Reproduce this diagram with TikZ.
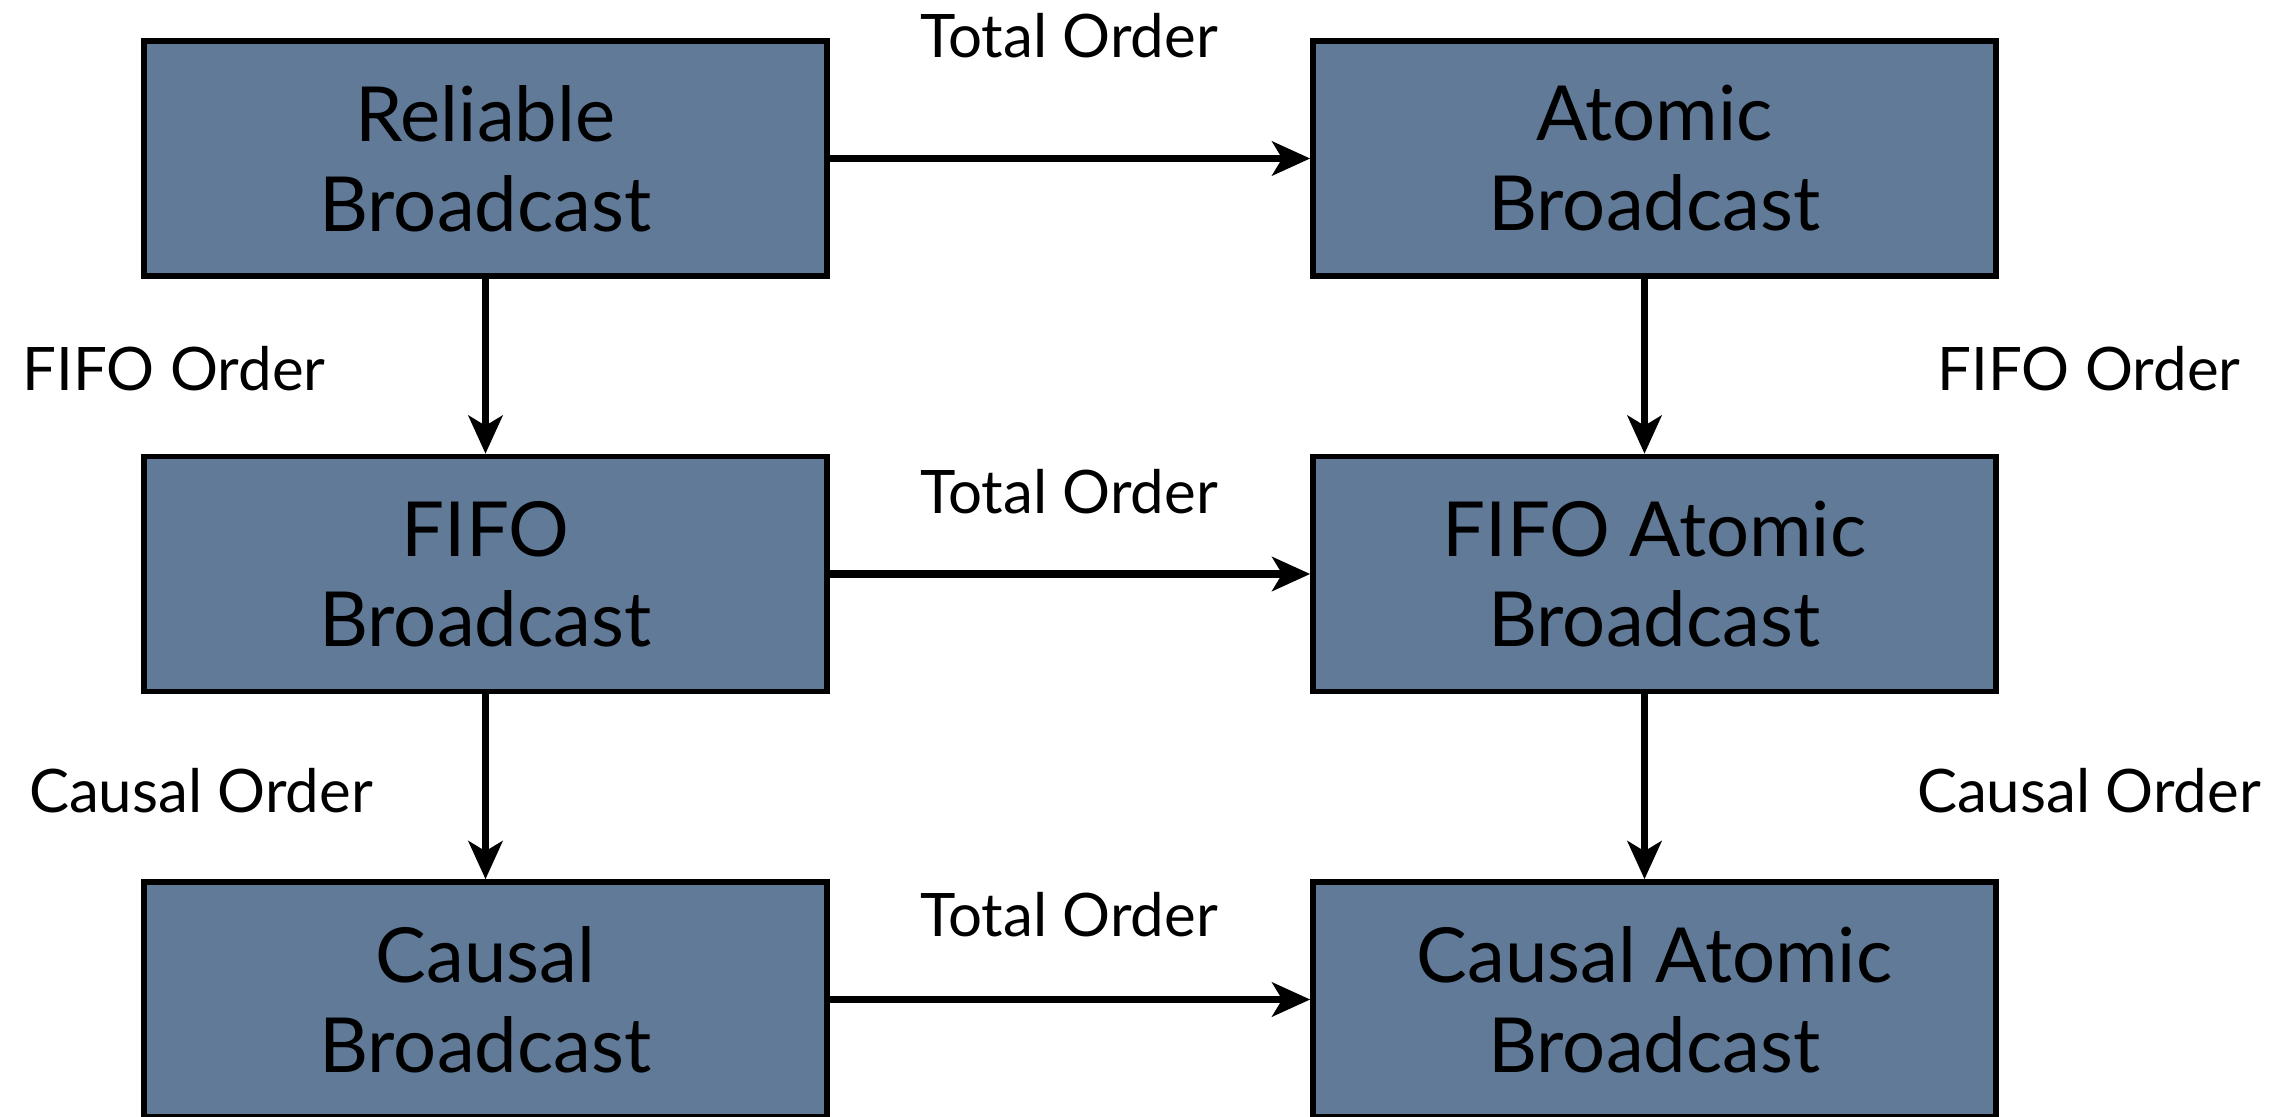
\documentclass[tikz,border=0pt]{standalone}
\usepackage{fontspec}
\setmainfont{Lato}
\usetikzlibrary{arrows.meta}
\definecolor{boxblue}{RGB}{96,122,152}
\tikzset{
  bbox/.style={draw=black, line width=2.8pt, fill=boxblue, minimum width=341.5pt, minimum height=117.5pt, inner sep=0pt, align=center, font=\fontsize{38}{45}\selectfont},
  lbl/.style={font=\fontsize{30}{36}\selectfont, inner sep=0pt},
  arr/.style={line width=3.6pt, -{Stealth[length=19pt,width=17pt,inset=5pt]}}
}
\begin{document}
\begin{tikzpicture}[x=0.5pt,y=-0.5pt]
\useasboundingbox (0,0) rectangle (2287,1117);
\node[bbox] (rb) at (485.5,158.5) {Reliable\\Broadcast};
\node[bbox] (ab) at (1654.5,158.5) {Atomic\\Broadcast};
\node[bbox] (fb) at (485.5,574) {FIFO\\Broadcast};
\node[bbox] (fab) at (1654.5,574) {FIFO Atomic\\Broadcast};
\node[bbox] (cb) at (485.5,999.5) {Causal\\Broadcast};
\node[bbox] (cab) at (1654.5,999.5) {Causal Atomic\\Broadcast};
\node[lbl] (t1) at (1069,36) {Total Order};
\node[lbl] (t2) at (1069,492) {Total Order};
\node[lbl] (t3) at (1069,915) {Total Order};
\node[lbl] (f1) at (174,369) {FIFO Order};
\node[lbl] (f2) at (2089,369) {FIFO Order};
\node[lbl] (c1) at (201,791) {Causal Order};
\node[lbl] (c2) at (2089,791) {Causal Order};
\draw[arr] (rb.east) -- (ab.west);
\draw[arr] (fb.east) -- (fab.west);
\draw[arr] (cb.east) -- (cab.west);
\draw[arr] (rb.south) -- (fb.north);
\draw[arr] (fb.south) -- (cb.north);
\draw[arr] ([xshift=-5pt]ab.south) -- ([xshift=-5pt]fab.north);
\draw[arr] ([xshift=-5pt]fab.south) -- ([xshift=-5pt]cab.north);
\end{tikzpicture}
\end{document}
